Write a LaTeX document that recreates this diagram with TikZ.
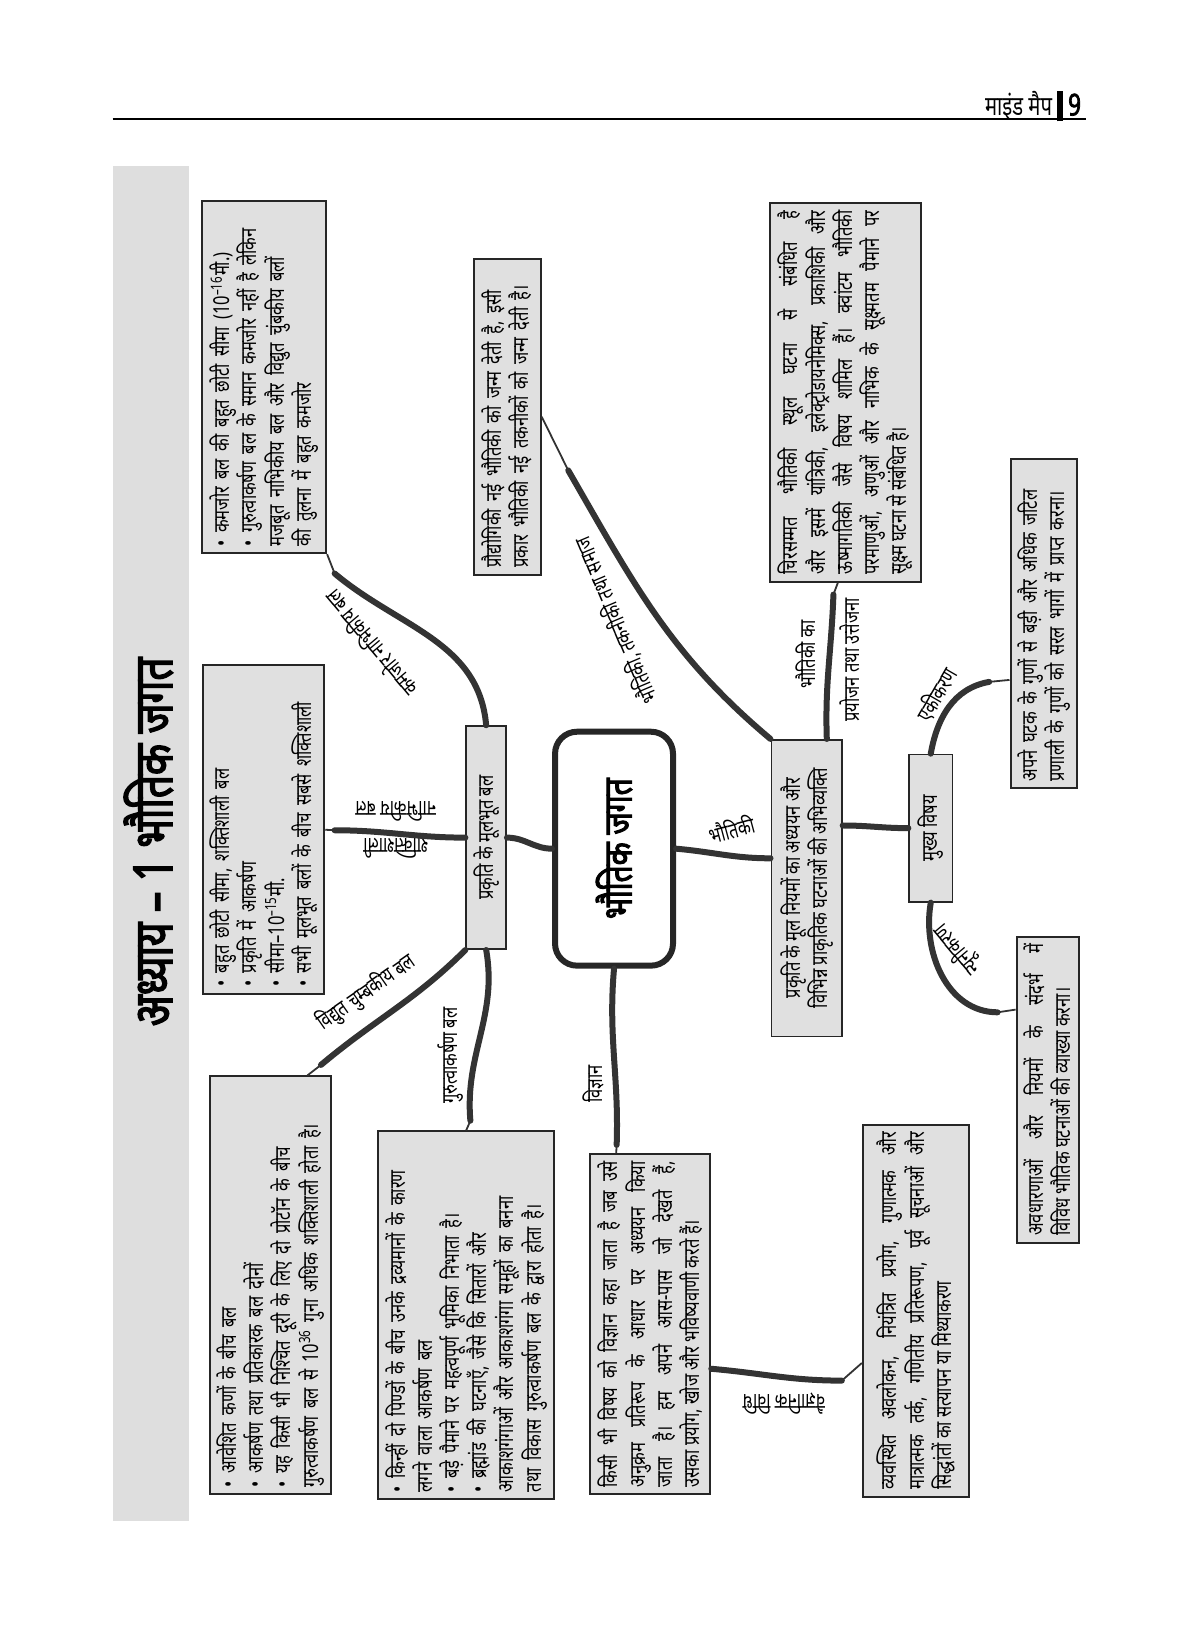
\documentclass[tikz,border=0pt]{standalone}
\usepackage{fontspec}
\setmainfont[Script=Devanagari, FakeStretch=0.75, AutoFakeBold=2.5]{Noto Sans}
\usepackage{tikz}
\usetikzlibrary{calc}
\tikzstyle{box} = [rotate=90, draw=black!85, fill=black!12, line width=1pt, inner sep=3.5pt, font=\fontsize{11}{13.6}\selectfont, align=left]
\tikzstyle{jbox} = [box, align=justify]
\tikzstyle{sub} = [rotate=90, draw=black!85, fill=black!12, line width=0.8pt, inner sep=2pt, font=\fontsize{11}{13.5}\selectfont, align=center]
\tikzstyle{hub} = [rotate=90, draw=black!85, fill=white, line width=3pt, rounded corners=11pt, minimum width=117pt, minimum height=59pt, font=\fontsize{20}{22}\bfseries\selectfont]
\tikzstyle{lbl} = [font=\fontsize{11}{12}\selectfont, inner sep=1pt]
\tikzstyle{branch} = [line width=3pt, draw=black!80, line cap=round]
\tikzstyle{twig} = [line width=0.9pt, draw=black!80]

\begin{document}
\begin{tikzpicture}[x=0.5263pt, y=0.5263pt]
      \useasboundingbox (0,0) rectangle (1140,-1568);

      % Header
      \node[anchor=east, font=\fontsize{13.5}{15}\selectfont] (head) at (1034,-101) {माइंड मैप \rule[-3pt]{2.8pt}{15pt} {\fontsize{15}{15}\bfseries 9}};
      \draw[line width=0.8pt] (107,-113) -- (1032,-113);

      % Title strip
      \fill[black!13] (107,-158) rectangle (180,-1445);
      \node[rotate=90, font=\fontsize{27}{30}\bfseries\selectfont] (title) at (141,-800) {अध्याय – 1 भौतिक जगत};

      % Nodes
      \node[hub] (phys) at (583.5,-806.5) {भौतिक जगत};
      \node[sub, minimum width=111.6pt, minimum height=20pt] (bal) at (462,-796) {प्रकृति के मूलभूत बल};
      \node[sub, minimum width=148.4pt, minimum height=35.3pt] (niyam) at (766.5,-844) {प्रकृति के मूल नियमों का अध्ययन और\\विभिन्न प्राकृतिक घटनाओं की अभिव्यक्ति};
      \node[sub, minimum width=73.7pt, minimum height=21.6pt] (vishay) at (884.5,-787) {मुख्य विषय};

      \node[box, minimum width=176pt, minimum height=62pt, text width=169pt] (weak) at (251,-358.5) {\textbullet\ कमजोर बल की बहुत छोटी सीमा (10\textsuperscript{–16}मी.)\\\textbullet\ गुरुत्वाकर्षण बल के समान कमजोर नहीं है लेकिन\\मजबूत नाभिकीय बल और विद्युत चुंबकीय बलों\\की तुलना में बहुत कमजोर};
      \node[box, minimum width=164.7pt, minimum height=59.5pt, text width=157pt] (strong) at (250.5,-788.5) {\textbullet\ बहुत छोटी सीमा, शक्तिशाली बल\\\textbullet\ प्रकृति में आकर्षण\\\textbullet\ सीमा–10\textsuperscript{–15}मी.\\\textbullet\ सभी मूलभूत बलों के बीच सबसे शक्तिशाली};
      \node[box, minimum width=209pt, minimum height=60pt, text width=202pt] (em) at (257,-1221.5) {\textbullet\ आवेशित कणों के बीच बल\\\textbullet\ आकर्षण तथा प्रतिकारक बल दोनों\\\textbullet\ यह किसी भी निश्चित दूरी के लिए दो प्रोटॉन के बीच\\गुरुत्वाकर्षण बल से 10\textsuperscript{36} गुना अधिक शक्तिशाली होता है।};
      \node[box, minimum width=184pt, minimum height=86.3pt, text width=177pt] (grav) at (443,-1250) {\textbullet\ किन्हीं दो पिण्डों के बीच उनके द्रव्यमानों के कारण\\लगने वाला आकर्षण बल\\\textbullet\ बड़े पैमाने पर महत्वपूर्ण भूमिका निभाता है।\\\textbullet\ ब्रह्मांड की घटनाएँ, जैसे कि सितारों और\\आकाशगंगाओं और आकाशगंगा समूहों का बनना\\तथा विकास गुरुत्वाकर्षण बल के द्वारा होता है।};
      \node[jbox, minimum width=170pt, minimum height=60pt, text width=163pt] (sci) at (618,-1258.5) {किसी भी विषय को विज्ञान कहा जाता है जब उसे\linebreak अनुक्रम प्रतिरूप के आधार पर अध्ययन किया\linebreak जाता है। हम अपने आस-पास जो देखते हैं,\linebreak उसका प्रयोग, खोज और भविष्यवाणी करते हैं।};
      \node[jbox, minimum width=185.8pt, minimum height=53.2pt, text width=179pt] (meth) at (870.5,-1245.5) {व्यवस्थित अवलोकन, नियंत्रित प्रयोग, गुणात्मक और\linebreak मात्रात्मक तर्क, गणितीय प्रतिरूपण, पूर्व सूचनाओं और\linebreak सिद्धांतों का सत्यापन या मिथ्याकरण};
      \node[jbox, minimum width=153pt, minimum height=31pt, text width=146pt] (red) at (995.5,-1035.5) {अवधारणाओं और नियमों के संदर्भ में\linebreak विविध भौतिक घटनाओं की व्याख्या करना।};
      \node[box, minimum width=164.7pt, minimum height=32.6pt, text width=158pt] (uni) at (992,-592.5) {अपने घटक के गुणों से बड़ी और अधिक जटिल\\प्रणाली के गुणों को सरल भागों में प्राप्त करना।};
      \node[jbox, minimum width=189.3pt, minimum height=75.8pt, text width=182pt] (cls) at (803.5,-373) {चिरसम्मत भौतिकी स्थूल घटना से संबंधित है\linebreak और इसमें यांत्रिकी, इलेक्ट्रोडायनेमिक्स, प्रकाशिकी और\linebreak ऊष्मागतिकी जैसे विषय शामिल हैं। क्वांटम भौतिकी\linebreak परमाणुओं, अणुओं और नाभिक के सूक्ष्मतम पैमाने पर\linebreak सूक्ष्म घटना से संबंधित है।};
      \node[box, minimum width=158pt, minimum height=33.5pt, text width=151pt] (tech) at (482,-396) {प्रौद्योगिकी नई भौतिकी को जन्म देती है, इसी\\प्रकार भौतिकी नई तकनीकों को जन्म देती है।};

      % Branch labels
      \node[lbl, rotate=130] (lweak) at (352,-612) {कमजोर नाभिकीय बल};
      \node[lbl, rotate=180] (lstr1) at (376,-806) {शक्तिशाली};
      \node[lbl, rotate=180] (lstr2) at (376,-771) {नाभिकीय बल};
      \node[lbl, rotate=35] (lem) at (348,-943) {विद्युत चुम्बकीय बल};
      \node[lbl, rotate=90] (lgrav) at (428,-1003) {गुरुत्वाकर्षण बल};
      \node[lbl, rotate=90] (lsci) at (564,-1030) {विज्ञान};
      \node[lbl, rotate=180] (lmeth) at (745,-1334) {वैज्ञानिक विधि};
      \node[lbl, rotate=15] (lphy) at (695,-788) {भौतिकी};
      \node[lbl, rotate=113] (ltech) at (585,-590) {भौतिकी, तकनीकी तथा समाज};
      \node[lbl, rotate=90] (lcls1) at (766,-622) {भौतिकी का};
      \node[lbl, rotate=90] (lcls2) at (808,-627) {प्रयोजन तथा उत्तेजना};
      \node[lbl, rotate=60] (luni) at (890,-660) {एकीकरण};
      \node[lbl, rotate=130] (lred) at (910,-902) {न्यूनीकरण};

      % Edges
      \coordinate (kWeak) at (318,-545);
      \coordinate (kStr) at (318,-789);
      \coordinate (kEm) at (305,-1012);
      \coordinate (kGrav) at (447,-1065);
      \coordinate (kSci) at (586,-1088);
      \coordinate (kMeth) at (800,-1312);
      \coordinate (kCls) at (792,-565);
      \coordinate (kTech) at (540,-447);
      \coordinate (kUni) at (940,-648);
      \coordinate (kRed) at (948,-962);

      \draw[branch] (phys.north) to[out=180,in=0] (bal.south);
      \draw[branch] (bal.east) to[out=95,in=-40] (kWeak);
      \draw[twig] (kWeak) -- (weak.south west);
      \draw[branch] (bal.north) to[out=180,in=0] (kStr);
      \draw[twig] (kStr) -- (strong.south);
      \draw[branch] (bal.north west) to[out=-135,in=40] (kEm);
      \draw[twig] (kEm) -- ($(em.south east)!0.2!(em.north east)$);
      \draw[branch] (bal.west) to[out=-80,in=95] (kGrav);
      \draw[twig] (kGrav) -- (grav.east);
      \draw[branch] (phys.west) to[out=-95,in=88] (kSci);
      \draw[twig] (kSci) -- ($(sci.south east)!0.78!(sci.north east)$);
      \draw[branch] ($(sci.south east)!0.63!(sci.south west)$) to[out=-5,in=180] (kMeth);
      \draw[twig] (kMeth) -- ($(meth.north east)!0.64!(meth.north west)$);
      \draw[branch] (phys.south) to[out=-5,in=180] ($(niyam.north east)!0.4!(niyam.north west)$);
      \draw[branch] ($(niyam.south east)!0.22!(niyam.north east)$) to[out=92,in=-92] (kCls);
      \draw[twig] (kCls) -- ($(cls.north west)!0.45!(cls.south west)$);
      \draw[branch] (niyam.north east) to[out=140,in=-60] (kTech);
      \draw[twig] (kTech) -- (tech.south);
      \draw[branch] ($(niyam.south east)!0.29!(niyam.south west)$) to[out=0,in=180] (vishay.north);
      \draw[branch] (vishay.east) to[out=80,in=190] (kUni);
      \draw[twig] (kUni) -- ($(uni.north east)!0.67!(uni.north west)$);
      \draw[branch] (vishay.west) to[out=-100,in=180] (kRed);
      \draw[twig] (kRed) -- ($(red.north east)!0.24!(red.north west)$);
\end{tikzpicture}
\end{document}
